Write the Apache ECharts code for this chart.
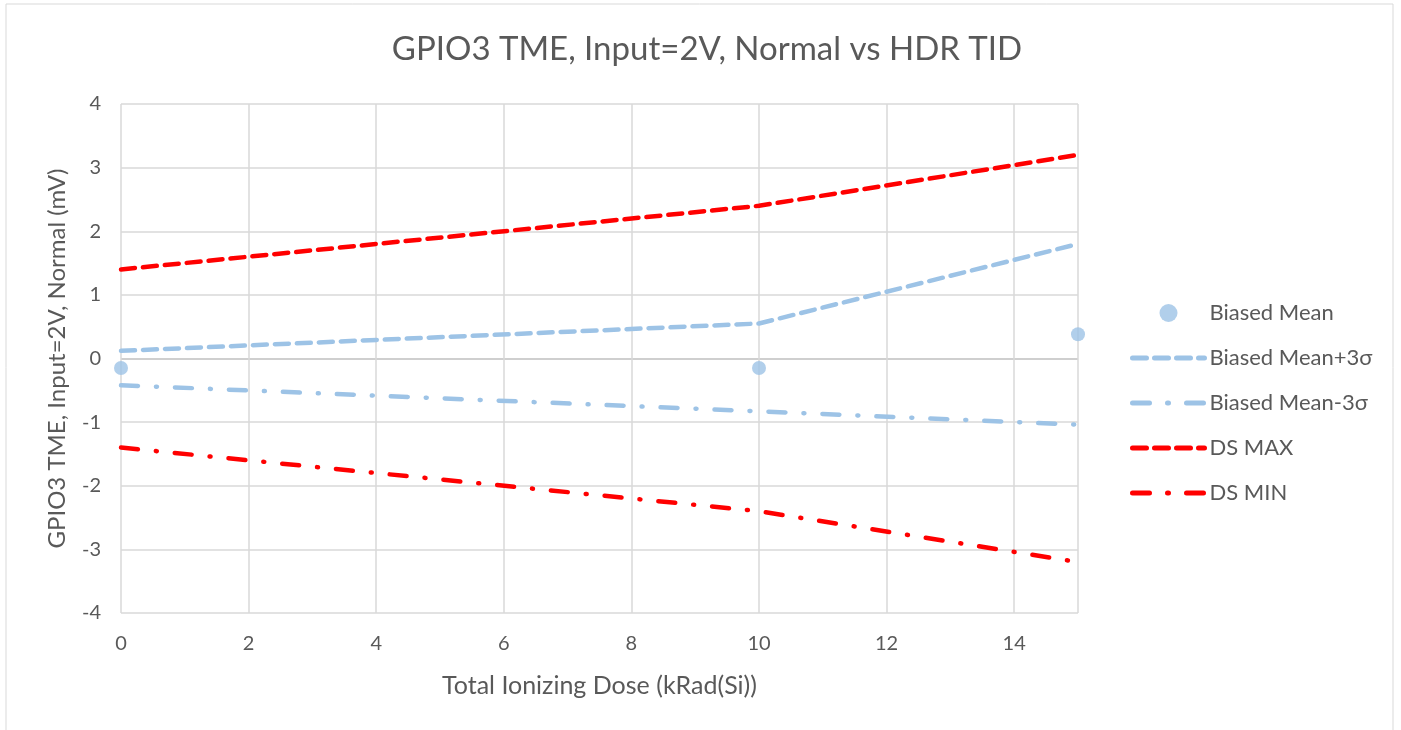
<!DOCTYPE html>
<html>
<head>
<meta charset="utf-8">
<script src="https://cdn.jsdelivr.net/npm/echarts@6/dist/echarts.min.js"></script>
<style>
  html, body { margin: 0; padding: 0; background: #fff; }
  #chart { width: 1401px; height: 730px; }
</style>
</head>
<body>
<div id="chart"></div>
<script>
// dose points (kRad(Si))
const dose = [0, 10, 15];
const biasedMean = [-0.15, -0.15, 0.38];
const meanPlus3s = [0.12, 0.55, 1.8];
const meanMinus3s = [-0.42, -0.83, -1.04];
const dsMax = [1.4, 2.4, 3.2];
const dsMin = [-1.4, -2.4, -3.2];

const pairs = (ys) => dose.map((x, i) => [x, ys[i]]);

const blue = "#9dc3e6";
const red = "#ff0000";
const grey = "#595959";
const dash = [14, 8];
const dashDot = [17, 18, 1, 18];

// legend entry for a line without its marker
const lineItem = (name, type) => ({
  name: name,
  itemStyle: { opacity: 0 },
  lineStyle: { width: 5, type: type, cap: "round" }
});

const chart = echarts.init(document.getElementById("chart"));
chart.setOption({
  animation: false,
  textStyle: { fontFamily: "Lato, Open Sans, sans-serif" },
  graphic: [{
    type: "rect",
    shape: { x: 6, y: 4, width: 1387, height: 740 },
    style: { fill: "none", stroke: "#d9d9d9", lineWidth: 1 },
    silent: true
  }],
  title: {
    text: "GPIO3 TME, Input=2V, Normal vs HDR TID",
    left: 702,
    textAlign: "center",
    top: 28,
    textStyle: { fontSize: 33, fontWeight: "normal", color: grey }
  },
  legend: {
    orient: "vertical",
    left: 1125,
    top: 297,
    itemWidth: 72,
    itemHeight: 18,
    itemGap: 23,
    textStyle: { fontSize: 22, lineHeight: 20, color: grey },
    data: [
      { name: "Biased Mean" },
      lineItem("Biased Mean+3σ", dash),
      lineItem("Biased Mean-3σ", dashDot),
      lineItem("DS MAX", dash),
      lineItem("DS MIN", dashDot)
    ]
  },
  grid: { left: 121, right: 323, top: 104, bottom: 117 },
  xAxis: {
    type: "value",
    min: 0,
    max: 15,
    interval: 2,
    name: "Total Ionizing Dose (kRad(Si))",
    nameLocation: "middle",
    nameGap: 60,
    nameTextStyle: { fontSize: 25, color: grey },
    axisLine: { show: false },
    axisTick: { show: false },
    axisLabel: {
      fontSize: 20, color: grey, margin: 21,
      formatter: (v) => (v === 15 ? "" : v)
    },
    splitLine: { show: true, lineStyle: { color: "#d9d9d9", width: 1.5 } }
  },
  yAxis: {
    type: "value",
    min: -4,
    max: 4,
    interval: 1,
    name: "GPIO3 TME, Input=2V, Normal (mV)",
    nameLocation: "middle",
    nameGap: 52,
    nameTextStyle: { fontSize: 24, color: grey },
    axisLine: { show: false },
    axisTick: { show: false },
    axisLabel: { fontSize: 20, color: grey, margin: 20 },
    splitLine: {
      lineStyle: {
        width: 1.5,
        color: ["#d9d9d9", "#d9d9d9", "#d9d9d9", "#d9d9d9", "#bfbfbf", "#d9d9d9", "#d9d9d9", "#d9d9d9", "#d9d9d9"]
      }
    }
  },
  series: [
    {
      name: "Biased Mean",
      type: "scatter",
      data: pairs(biasedMean),
      symbol: "circle",
      symbolSize: 14,
      itemStyle: { color: blue },
      z: 5
    },
    {
      name: "Biased Mean+3σ",
      type: "line",
      data: pairs(meanPlus3s),
      symbol: "none",
      itemStyle: { color: blue },
      lineStyle: { color: blue, width: 4.5, type: dash, cap: "round" }
    },
    {
      name: "Biased Mean-3σ",
      type: "line",
      data: pairs(meanMinus3s),
      symbol: "none",
      itemStyle: { color: blue },
      lineStyle: { color: blue, width: 4.5, type: dashDot, cap: "round" }
    },
    {
      name: "DS MAX",
      type: "line",
      data: pairs(dsMax),
      symbol: "none",
      itemStyle: { color: red },
      lineStyle: { color: red, width: 4.5, type: dash, cap: "round" }
    },
    {
      name: "DS MIN",
      type: "line",
      data: pairs(dsMin),
      symbol: "none",
      itemStyle: { color: red },
      lineStyle: { color: red, width: 4.5, type: dashDot, cap: "round" }
    }
  ]
});
</script>
</body>
</html>
